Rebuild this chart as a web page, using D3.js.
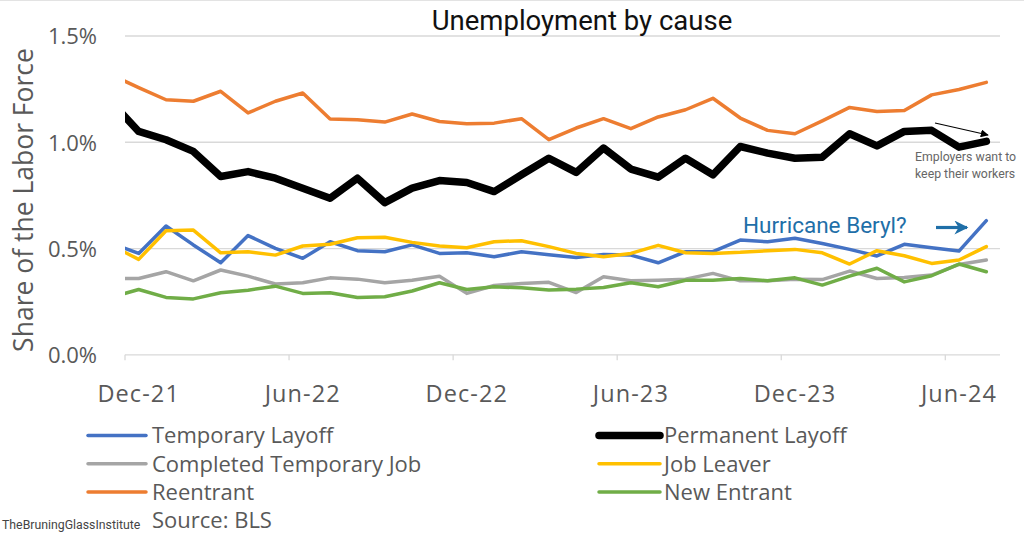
<!DOCTYPE html>
<html>
<head>
<meta charset="utf-8">
<script src="https://cdn.jsdelivr.net/npm/d3@7/dist/d3.min.js"></script>
<style>
  html, body { margin: 0; padding: 0; background: #fff; }
  svg { display: block; }
</style>
</head>
<body>
<svg id="chart" width="1024" height="539"></svg>
<script>
// ---- Data (share of labor force, %) ----
// first entry (Nov-21) lies left of the plot area and is clipped
const months = ["Nov-21","Dec-21","Jan-22","Feb-22","Mar-22","Apr-22","May-22","Jun-22","Jul-22","Aug-22","Sep-22","Oct-22","Nov-22",
  "Dec-22","Jan-23","Feb-23","Mar-23","Apr-23","May-23","Jun-23","Jul-23","Aug-23","Sep-23","Oct-23","Nov-23",
  "Dec-23","Jan-24","Feb-24","Mar-24","Apr-24","May-24","Jun-24","Jul-24"];
const tickLabels = ["Dec-21","Jun-22","Dec-22","Jun-23","Dec-23","Jun-24"];
const yTicks = [0, 0.5, 1.0, 1.5];

const temporaryLayoff = [0.525,0.477,0.606,0.517,0.433,0.561,0.501,0.454,0.532,0.490,0.485,0.517,0.477,0.480,0.461,0.485,0.471,
  0.458,0.472,0.469,0.433,0.485,0.485,0.540,0.532,0.548,0.524,0.496,0.465,0.520,0.504,0.488,0.631];
const permanentLayoff = [1.190,1.051,1.012,0.957,0.839,0.862,0.831,0.784,0.737,0.831,0.716,0.784,0.820,0.811,0.768,0.847,0.925,
  0.858,0.973,0.874,0.836,0.925,0.847,0.980,0.949,0.925,0.930,1.040,0.983,1.051,1.056,0.977,1.004];
const completedTempJob = [0.359,0.359,0.391,0.348,0.399,0.370,0.333,0.339,0.362,0.356,0.339,0.351,0.370,0.289,0.326,0.336,0.341,
  0.293,0.367,0.348,0.351,0.356,0.383,0.348,0.348,0.356,0.354,0.394,0.359,0.364,0.375,0.425,0.446];
const jobLeaver = [0.515,0.449,0.584,0.587,0.480,0.485,0.469,0.512,0.520,0.551,0.553,0.529,0.512,0.504,0.532,0.537,0.509,
  0.477,0.461,0.477,0.515,0.480,0.477,0.482,0.490,0.496,0.480,0.427,0.490,0.466,0.430,0.446,0.509];
const reentrant = [1.317,1.257,1.200,1.193,1.240,1.138,1.193,1.232,1.109,1.106,1.095,1.133,1.098,1.087,1.090,1.111,1.012,
  1.067,1.111,1.064,1.119,1.153,1.207,1.114,1.056,1.040,1.101,1.164,1.145,1.149,1.223,1.248,1.282];
const newEntrant = [0.271,0.307,0.270,0.263,0.292,0.304,0.323,0.289,0.292,0.270,0.273,0.300,0.339,0.307,0.320,0.315,0.305,
  0.309,0.317,0.339,0.320,0.351,0.351,0.359,0.348,0.362,0.328,0.370,0.407,0.343,0.372,0.427,0.391];

const seriesNames = ["Temporary Layoff","Permanent Layoff","Completed Temporary Job","Job Leaver","Reentrant","New Entrant"];
const seriesValues = [temporaryLayoff, permanentLayoff, completedTempJob, jobLeaver, reentrant, newEntrant];
const seriesColors = ["#4472C4","#000000","#A5A5A5","#FFC000","#ED7D31","#70AD47"];
const seriesWidths = [3.5, 7.5, 3.5, 3.5, 3.5, 3.5];

// ---- Layout ----
const svg = d3.select("#chart");
const plot = {left: 125, right: 1000, top: 36, bottom: 354.8};
const axisFont = "'Open Sans', 'Noto Sans', sans-serif";
const labelColor = "#595959";

// x: index relative to Dec-21 (Nov-21 = -1); plot covers Dec-21 - 0.5 .. Jul-24 + 0.5
const x = d3.scaleLinear().domain([-0.5, months.length - 1.5]).range([plot.left, plot.right]);
const y = d3.scaleLinear().domain([0, 1.5]).range([plot.bottom, plot.top]);

// top border line
svg.append("line").attr("x1", 0).attr("x2", 1024).attr("y1", 0.5).attr("y2", 0.5)
  .attr("stroke", "#e3e3e3").attr("stroke-width", 1);

// gridlines
svg.append("g").selectAll("line").data(yTicks.filter(d => d > 0)).join("line")
  .attr("x1", plot.left).attr("x2", plot.right)
  .attr("y1", d => y(d)).attr("y2", d => y(d))
  .attr("stroke", "#d9d9d9").attr("stroke-width", 1.3);

// y axis labels
const yAxis = d3.axisLeft(y).tickValues(yTicks).tickFormat(d => d3.format(".1f")(d) + "%").tickSize(0).tickPadding(0);
const gy = svg.append("g").attr("transform", `translate(97,0)`).call(yAxis);
gy.select(".domain").remove();
gy.selectAll("text").attr("font-family", axisFont).attr("font-size", 22).attr("fill", labelColor)
  .attr("dy", "0.36em");

// x axis: ticks at month boundaries every 6 months, labels at month centres
const tickIdx = tickLabels.map(l => months.indexOf(l) - 1);
const gx = svg.append("g");
gx.append("line").attr("x1", plot.left).attr("x2", plot.right).attr("y1", plot.bottom).attr("y2", plot.bottom)
  .attr("stroke", "#d9d9d9").attr("stroke-width", 1.3);
gx.selectAll("line.tk").data(tickIdx).join("line").attr("class", "tk")
  .attr("x1", d => x(d - 0.5)).attr("x2", d => x(d - 0.5))
  .attr("y1", plot.bottom).attr("y2", plot.bottom + 5.5)
  .attr("stroke", "#d9d9d9").attr("stroke-width", 1.3);
gx.selectAll("text").data(tickLabels).join("text")
  .attr("x", d => x(months.indexOf(d) - 1)).attr("y", 401.5)
  .attr("text-anchor", "middle")
  .attr("font-family", axisFont).attr("font-size", 23.5).attr("letter-spacing", 1.1).attr("fill", labelColor)
  .text(d => d);

// y axis title
svg.append("text")
  .attr("transform", "translate(33,200) rotate(-90)")
  .attr("text-anchor", "middle")
  .attr("font-family", axisFont).attr("font-size", 26.5).attr("fill", labelColor)
  .text("Share of the Labor Force");

// title
svg.append("text").attr("x", 582).attr("y", 30).attr("text-anchor", "middle")
  .attr("font-family", "Roboto, sans-serif").attr("font-size", 27.5).attr("fill", "#111")
  .text("Unemployment by cause");

// clip for lines
svg.append("clipPath").attr("id", "plotclip").append("rect")
  .attr("x", plot.left).attr("y", 0).attr("width", plot.right - plot.left).attr("height", 400);

const line = d3.line().x((d, i) => x(i - 1)).y(d => y(d));
const gl = svg.append("g").attr("clip-path", "url(#plotclip)");
seriesValues.forEach((vals, k) => {
  gl.append("path").datum(vals)
    .attr("d", line)
    .attr("fill", "none")
    .attr("stroke", seriesColors[k])
    .attr("stroke-width", seriesWidths[k])
    .attr("stroke-linejoin", "round")
    .attr("stroke-linecap", "round");
});

// legend
const legendRows = [[0, 1], [2, 3], [4, 5]];
const legendCols = [{lx1: 88, lx2: 146, tx: 152}, {lx1: 599, lx2: 660, tx: 664}];
const lg = svg.append("g");
legendRows.forEach((row, r) => {
  row.forEach((k, c) => {
    const cy = 435.5 + r * 28.2;
    const col = legendCols[c];
    lg.append("line").attr("x1", col.lx1).attr("x2", col.lx2).attr("y1", cy).attr("y2", cy)
      .attr("stroke", seriesColors[k]).attr("stroke-width", seriesWidths[k])
      .attr("stroke-linecap", "round");
    lg.append("text").attr("x", col.tx).attr("y", cy).attr("dy", "0.36em")
      .attr("font-family", axisFont).attr("font-size", 22).attr("fill", labelColor)
      .text(seriesNames[k]);
  });
});
svg.append("text").attr("x", 152).attr("y", 520.5).attr("dy", "0.36em")
  .attr("font-family", axisFont).attr("font-size", 22).attr("fill", labelColor)
  .text("Source: BLS");

svg.append("text").attr("x", 2).attr("y", 529)
  .attr("font-family", "Roboto, sans-serif").attr("font-size", 12.3).attr("fill", "#444")
  .text("TheBruningGlassInstitute");

// annotations
const defs = svg.append("defs");
defs.append("marker").attr("id", "arrBlack").attr("viewBox", "0 0 10 10").attr("refX", 9).attr("refY", 5)
  .attr("markerWidth", 8).attr("markerHeight", 8).attr("markerUnits", "userSpaceOnUse").attr("orient", "auto")
  .append("path").attr("d", "M0,0 L10,5 L0,10 z").attr("fill", "#000");
defs.append("marker").attr("id", "arrBlue").attr("viewBox", "0 0 10 10").attr("refX", 9).attr("refY", 5)
  .attr("markerWidth", 16).attr("markerHeight", 14).attr("markerUnits", "userSpaceOnUse").attr("orient", "auto")
  .append("path").attr("d", "M0,0 L10,5 L0,10 L3,5 z").attr("fill", "#1F6FA8");

svg.append("line").attr("x1", 935).attr("y1", 123).attr("x2", 988).attr("y2", 135)
  .attr("stroke", "#000").attr("stroke-width", 1.1).attr("marker-end", "url(#arrBlack)");
const emp = svg.append("text").attr("font-family", "Roboto, sans-serif").attr("font-size", 12.3).attr("fill", "#666");
emp.append("tspan").attr("x", 915).attr("y", 161).text("Employers want to");
emp.append("tspan").attr("x", 915).attr("y", 177.5).text("keep their workers");

svg.append("text").attr("x", 743).attr("y", 232.5)
  .attr("font-family", "Roboto, sans-serif").attr("font-size", 22.5).attr("fill", "#1F6FA8")
  .text("Hurricane Beryl?");
svg.append("line").attr("x1", 936).attr("y1", 227.5).attr("x2", 967).attr("y2", 227.5)
  .attr("stroke", "#1F6FA8").attr("stroke-width", 3.2).attr("marker-end", "url(#arrBlue)");
</script>
</body>
</html>
